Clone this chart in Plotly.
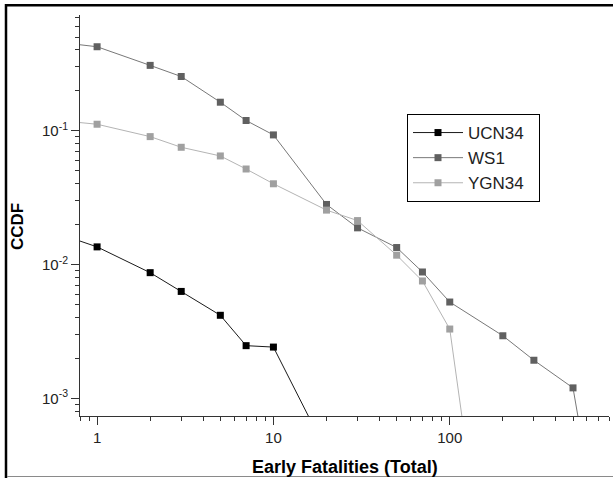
import math
import plotly.graph_objects as go

# ---- data ----
x_ucn34 = [0.5, 1, 2, 3, 5, 7, 10, 20]
y_ucn34 = [0.0185, 0.01355, 0.0087, 0.0063, 0.00418, 0.00248, 0.00242, 0.0004]

x_ws1 = [0.5, 1, 2, 3, 5, 7, 10, 20, 30, 50, 70, 100, 200, 300, 500, 600]
y_ws1 = [0.47, 0.423, 0.307, 0.2535, 0.163, 0.119, 0.0929, 0.0281, 0.0188,
         0.0134, 0.0088, 0.00525, 0.00294, 0.00193, 0.0012, 0.0003]

x_ygn34 = [0.5, 1, 2, 3, 5, 7, 10, 20, 30, 50, 70, 100, 125]
y_ygn34 = [0.122, 0.1116, 0.0902, 0.0751, 0.0647, 0.0517, 0.0401, 0.0255,
           0.0213, 0.01175, 0.00754, 0.0033, 0.0004]

series_names = ["UCN34", "WS1", "YGN34"]

x_tickvals = [1, 10, 100]
x_ticktext = ["1", "10", "100"]
y_tickvals = [0.1, 0.01, 0.001]
y_ticktext = ["10<sup>-1</sup>", "10<sup>-2</sup>", "10<sup>-3</sup>"]

x_minor = [m * 10 ** e for e in (-1, 0, 1, 2) for m in range(2, 10)]
x_minor = [v for v in x_minor if 0.8 <= v <= 800 and v not in x_tickvals]
y_minor = [m * 10 ** e for e in (-4, -3, -2, -1) for m in range(2, 10)]
y_minor = [v for v in y_minor if 0.00074 <= v <= 0.73]

FONT = "Liberation Sans, Arial, sans-serif"
AX = "#333333"
PAD = "\u00a0\u00a0"  # keeps the legend box as wide as in the reference

fig = go.Figure()
fig.add_trace(go.Scatter(
    x=x_ucn34, y=y_ucn34, name=series_names[0] + PAD, mode="lines+markers",
    line=dict(color="#1a1a1a", width=1),
    marker=dict(symbol="square", size=7, color="#000000")))
fig.add_trace(go.Scatter(
    x=x_ws1, y=y_ws1, name=series_names[1] + PAD, mode="lines+markers",
    line=dict(color="#787878", width=1),
    marker=dict(symbol="square", size=7, color="#606060")))
fig.add_trace(go.Scatter(
    x=x_ygn34, y=y_ygn34, name=series_names[2] + PAD, mode="lines+markers",
    line=dict(color="#b4b4b4", width=1),
    marker=dict(symbol="square", size=7, color="#a0a0a0")))

L, R, T, B = 80, 4, 15, 62
W, H = 613, 478
pw, ph = W - L - R, H - T - B

def px(xp):
    return (xp - L) / pw

def py(yp):
    return (H - B - yp) / ph

fig.update_layout(
    width=W, height=H,
    margin=dict(l=L, r=R, t=T, b=B),
    paper_bgcolor="white", plot_bgcolor="white",
    font=dict(family=FONT, color="#222222", size=15),
    showlegend=True,
    legend=dict(
        x=px(407), y=py(114), xanchor="left", yanchor="top",
        bordercolor="#000000", borderwidth=1, bgcolor="white",
        font=dict(family=FONT, size=17, color="#222222"),
        itemwidth=50, tracegroupgap=0,
    ),
    xaxis=dict(
        type="log", range=[math.log10(0.8), math.log10(800)],
        showline=True, linecolor=AX, linewidth=1, mirror=False,
        ticks="outside", ticklen=8, tickwidth=1, tickcolor=AX,
        tickmode="array", tickvals=x_tickvals, ticktext=x_ticktext,
        showgrid=False, zeroline=False,
        tickfont=dict(size=15, color="#222222"),
        minor=dict(tickmode="array", tickvals=x_minor, ticks="outside",
                   ticklen=4, tickcolor=AX, showgrid=False),
    ),
    yaxis=dict(
        type="log", range=[math.log10(0.00074), math.log10(0.73)],
        showline=True, linecolor=AX, linewidth=1, mirror=False,
        ticks="outside", ticklen=8, tickwidth=1, tickcolor=AX,
        tickmode="array", tickvals=y_tickvals, ticktext=y_ticktext,
        showgrid=False, zeroline=False,
        tickfont=dict(size=15, color="#222222"),
        minor=dict(tickmode="array", tickvals=y_minor, ticks="outside",
                   ticklen=4, tickcolor=AX, showgrid=False),
    ),
    annotations=[
        dict(text="<b>Early Fatalities (Total)</b>", xref="paper", yref="paper",
             x=0.5, y=py(467), xanchor="center", yanchor="middle",
             showarrow=False, font=dict(family=FONT, size=18, color="#000000")),
        dict(text="<b>CCDF</b>", xref="paper", yref="paper",
             x=px(17.3), y=py(226.7), xanchor="center", yanchor="middle",
             textangle=-90, showarrow=False,
             font=dict(family=FONT, size=17, color="#000000")),
    ],
    shapes=[
        dict(type="line", xref="paper", yref="paper",
             x0=px(6), x1=px(6), y0=py(480), y1=py(4),
             line=dict(color="#000000", width=2.5)),
        dict(type="line", xref="paper", yref="paper",
             x0=px(5), x1=px(615), y0=py(5.3), y1=py(5.3),
             line=dict(color="#000000", width=2.5)),
        dict(type="line", xref="paper", yref="paper",
             x0=px(7), x1=px(615), y0=py(476.5), y1=py(476.5),
             line=dict(color="#8a8a8a", width=1.2)),
    ],
)

fig.write_html("out.html")
